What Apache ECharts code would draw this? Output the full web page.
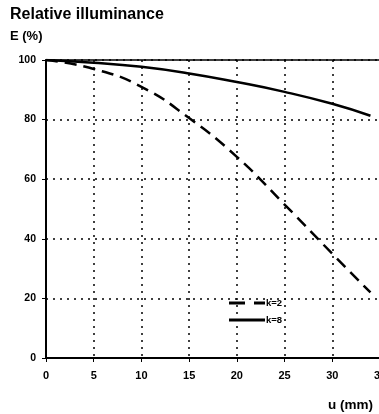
<!DOCTYPE html>
<html>
<head>
<meta charset="utf-8">
<script src="https://cdn.jsdelivr.net/npm/echarts@6/dist/echarts.min.js"></script>
<style>
  html, body { margin: 0; padding: 0; background: #fff; }
  #chart { width: 379px; height: 414px; }
</style>
</head>
<body>
<div id="chart"></div>
<script>
// Relative illuminance E (%) versus image height u (mm)
const uValues = [0, 5, 10, 15, 20, 25, 30, 34];
const illumK2 = [100, 97, 91, 80.5, 67.5, 51.5, 35, 22];
const illumK8 = [100, 99.1, 97.7, 95.5, 92.6, 89.3, 85.3, 81.3];
const seriesNames = ['k=2', 'k=8'];
const xTicks = [0, 5, 10, 15, 20, 25, 30, 35];
const yTicks = [0, 20, 40, 60, 80, 100];

const font = '"Liberation Sans", Arial, sans-serif';
const pair = (xs, ys) => xs.map((x, i) => [x, ys[i]]);

// legend keys: a long-dash sample and a solid bar
const dashKey = 'path://M0,0H16V3H0Z M25,0H36V3H25Z';
const solidKey = 'path://M0,0H36V3H0Z';

const chart = echarts.init(document.getElementById('chart'));
chart.setOption({
  animation: false,
  backgroundColor: '#fff',
  textStyle: { fontFamily: font },
  grid: {
    left: 46, top: 60, right: -1, bottom: 56,
    outerBoundsMode: 'none', containLabel: false,
    show: true, borderColor: '#000', borderWidth: 1.5
  },
  xAxis: {
    type: 'value', min: xTicks[0], max: xTicks[xTicks.length - 1], interval: 5,
    axisLine: { show: true, onZero: false, lineStyle: { color: '#000', width: 2 } },
    axisTick: { show: true, length: 4, lineStyle: { color: '#000', width: 1 } },
    axisLabel: { color: '#000', fontWeight: 'bold', fontSize: 11, margin: 12, fontFamily: font },
    splitLine: { show: true, lineStyle: { color: '#000', width: 1.5, type: [2, 5] } }
  },
  yAxis: {
    type: 'value', min: yTicks[0], max: yTicks[yTicks.length - 1], interval: 20,
    axisLine: { show: true, lineStyle: { color: '#000', width: 2 } },
    axisTick: { show: true, length: 4, lineStyle: { color: '#000', width: 1 } },
    axisLabel: { color: '#000', fontWeight: 'bold', fontSize: 10.5, margin: 10, fontFamily: font },
    splitLine: { show: true, lineStyle: { color: '#000', width: 1.5, type: [2, 5] } }
  },
  legend: {
    orient: 'vertical', left: 229, top: 298, padding: 0,
    itemWidth: 36, itemHeight: 3, itemGap: 7,
    data: [
      { name: seriesNames[0], icon: dashKey },
      { name: seriesNames[1], icon: solidKey }
    ],
    textStyle: { color: '#000', fontWeight: 'bold', fontSize: 9.5, fontFamily: font, padding: [0, 0, 0, -4] }
  },
  series: [
    {
      name: seriesNames[0], type: 'line', smooth: true, symbol: 'none',
      data: pair(uValues, illumK2),
      lineStyle: { color: '#000', width: 2.5, type: [12, 7] },
      itemStyle: { color: '#000' }
    },
    {
      name: seriesNames[1], type: 'line', smooth: true, symbol: 'none',
      data: pair(uValues, illumK8),
      lineStyle: { color: '#000', width: 2.5, type: 'solid' },
      itemStyle: { color: '#000' }
    }
  ],
  graphic: [
    { type: 'text', left: 10, top: 7, style: { text: 'Relative illuminance', font: 'bold 16px ' + font, fill: '#000' } },
    { type: 'text', left: 10, top: 30, style: { text: 'E (%)', font: 'bold 13px ' + font, fill: '#000' } },
    { type: 'text', left: 328, top: 398, style: { text: 'u (mm)', font: 'bold 13.5px ' + font, fill: '#000' } }
  ]
});
</script>
</body>
</html>
